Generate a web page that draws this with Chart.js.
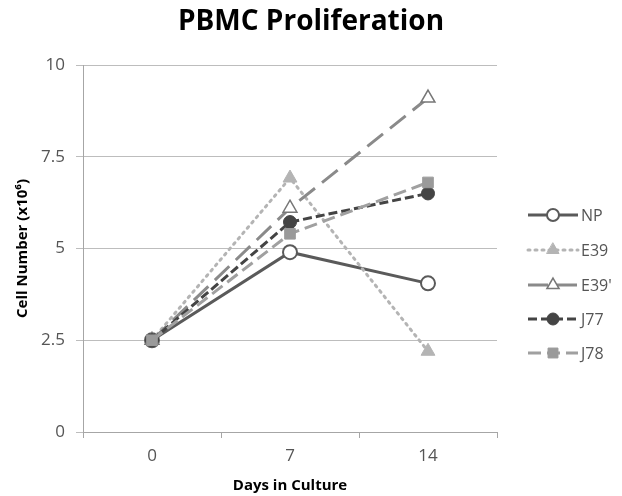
<!DOCTYPE html>
<html><head><meta charset="utf-8">
<script src="https://cdn.jsdelivr.net/npm/chart.js@4/dist/chart.umd.min.js"></script>
<style>html,body{margin:0;padding:0;background:#fff}#wrap{width:622px;height:496px}</style>
</head><body><div id="wrap"><canvas id="c"></canvas></div>
<script>
const categories = ["0", "7", "14"];
const seriesNames = ["NP", "E39", "E39'", "J77", "J78"];
const NP = [2.5, 4.9, 4.05];
const E39 = [2.5, 6.92, 2.2];
const E39p = [2.5, 6.1, 9.1];
const J77 = [2.5, 5.72, 6.5];
const J78 = [2.5, 5.4, 6.8];
const yTicks = [0, 2.5, 5, 7.5, 10];

const FONT = "'Open Sans', 'Liberation Sans', sans-serif";

const datasets = [
  {label: seriesNames[0], data: NP, borderColor:'#5a5a5a', borderWidth:3, borderDash:[],
   pointStyle:'circle', pointRadius:7, pointBackgroundColor:'#ffffff', pointBorderColor:'#5a5a5a', pointBorderWidth:2,
   legendRadius:6, order:5},
  {label: seriesNames[1], data: E39, borderColor:'#b4b4b4', borderWidth:3, borderDash:[2,5], borderCapStyle:'round',
   pointStyle:'triangle', pointRadius:8, pointBackgroundColor:'#b4b4b4', pointBorderColor:'#b4b4b4', pointBorderWidth:1,
   legendRadius:7, order:4},
  {label: seriesNames[2], data: E39p, borderColor:'#8a8a8a', borderWidth:3, borderDash:[20,9],
   pointStyle:'triangle', pointRadius:8, pointBackgroundColor:'#ffffff', pointBorderColor:'#777777', pointBorderWidth:1.5,
   legendRadius:7, order:3},
  {label: seriesNames[3], data: J77, borderColor:'#444444', borderWidth:3, borderDash:[9,4],
   pointStyle:'circle', pointRadius:6.5, pointBackgroundColor:'#444444', pointBorderColor:'#444444', pointBorderWidth:1,
   legendRadius:6, order:2},
  {label: seriesNames[4], data: J78, borderColor:'#a0a0a0', borderWidth:3, borderDash:[13,6],
   pointStyle:'rect', pointRadius:7.5, pointBackgroundColor:'#9a9a9a', pointBorderColor:'#9a9a9a', pointBorderWidth:1,
   legendRadius:7, order:1}
];
datasets.forEach(d=>{d.fill=false; d.tension=0;});

const legendPlugin = {
  id:'sideLegend',
  afterDraw(chart){
    const ctx = chart.ctx;
    const x0 = chart.chartArea.right + 31;
    const rows = [215, 250, 285, 319, 353];
    chart.data.datasets.forEach((d,i)=>{
      const y = rows[i];
      ctx.save();
      ctx.strokeStyle = d.borderColor;
      ctx.lineWidth = d.borderWidth;
      ctx.lineCap = d.borderCapStyle || 'butt';
      ctx.setLineDash(d.borderDash||[]);
      ctx.beginPath(); ctx.moveTo(x0, y); ctx.lineTo(x0+50, y); ctx.stroke();
      ctx.setLineDash([]);
      ctx.fillStyle = d.pointBackgroundColor;
      ctx.strokeStyle = d.pointBorderColor;
      ctx.lineWidth = d.pointBorderWidth;
      Chart.helpers.drawPoint(ctx, {pointStyle:d.pointStyle, radius:d.legendRadius, borderWidth:d.pointBorderWidth, rotation:0}, x0+25, y);
      ctx.fillStyle = '#555555';
      ctx.font = "16px " + FONT;
      ctx.textBaseline = 'middle';
      ctx.fillText(d.label, x0+53, y+1);
      ctx.restore();
    });
  }
};

new Chart(document.getElementById('c'), {
  type:'line',
  data:{labels:categories, datasets},
  plugins:[legendPlugin],
  options:{
    responsive:true, maintainAspectRatio:false, animation:false,
    layout:{padding:0},
    plugins:{
      legend:{display:false}, tooltip:{enabled:false},
      title:{display:true, text:'PBMC Proliferation', color:'#000', font:{family:FONT, size:28, weight:'bold', lineHeight:1.2}, padding:{top:5,bottom:26.4}}
    },
    scales:{
      x:{offset:true,
         afterFit(s){ s.height = 64; },
         grid:{display:true, drawOnChartArea:false, offset:true, color:'#a6a6a6', tickLength:6},
         border:{color:'#a6a6a6'},
         ticks:{color:'#555555', font:{family:FONT, size:17}, padding:8},
         title:{display:true, text:'Days in Culture', color:'#000', font:{family:FONT, size:15, weight:'bold'}, padding:{top:0, bottom:1}}},
      y:{min:0, max:10,
         afterFit(s){ s.width = 83; },
         afterBuildTicks(s){ s.ticks = yTicks.map(v=>({value:v})); },
         grid:{color:'#bdbdbd', tickLength:7},
         border:{color:'#a6a6a6'},
         ticks:{color:'#555555', font:{family:FONT, size:17}, padding:11, callback:v=>String(v)},
         title:{display:true, text:'Cell Number (x10\u2076)', color:'#000', font:{family:FONT, size:15, weight:'bold'}, padding:{top:14, bottom:0}}},
      yR:{type:'linear', position:'right', display:true,
         afterFit(s){ s.width = 125; },
         grid:{display:false}, border:{display:false}, ticks:{display:false}}
    }
  }
});
</script></body></html>
